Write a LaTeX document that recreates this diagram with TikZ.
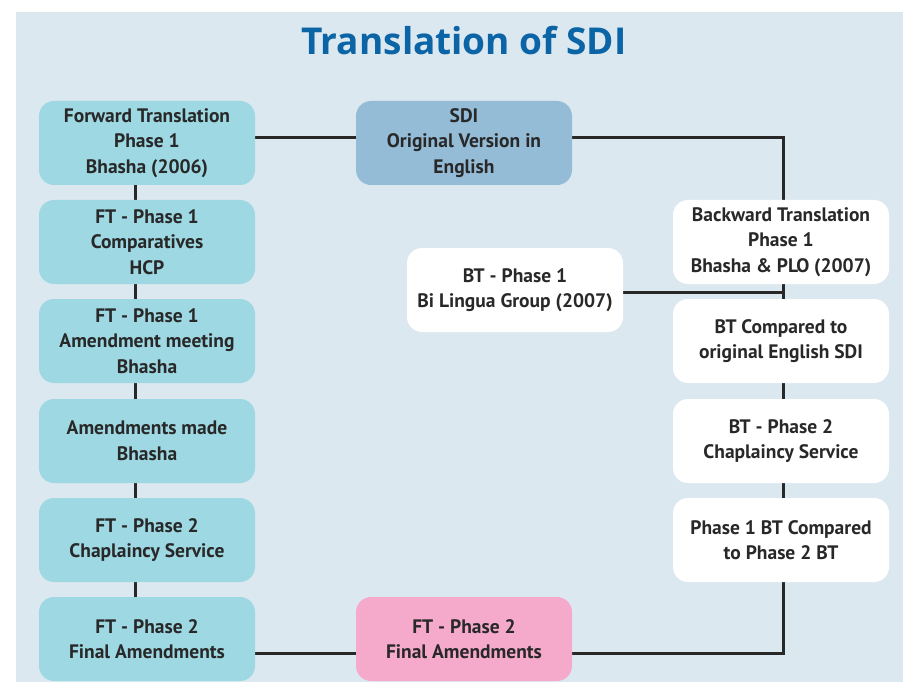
\documentclass[tikz,border=0pt]{standalone}
\usepackage{fontspec}
\setmainfont{PT Sans}
\newfontfamily\headfont{Open Sans}
\usetikzlibrary{backgrounds}
\definecolor{panel}{RGB}{220,232,240}
\definecolor{ftblue}{RGB}{157,216,227}
\definecolor{sdiblue}{RGB}{148,188,214}
\definecolor{finalpink}{RGB}{245,170,203}
\definecolor{titleblue}{RGB}{10,100,166}
\definecolor{ink}{RGB}{40,40,40}
\pgfdeclarelayer{lines}
\pgfsetlayers{background,lines,main}
\tikzset{box/.style = {rounded corners = 15pt, minimum width = 216pt, minimum height = 84pt, inner sep = 0pt, align = center, font = \fontsize{19.5}{25.5}\selectfont\bfseries, text = ink}}
\tikzset{link/.style = {draw = ink, line width = 3pt}}

\begin{document}
\begin{tikzpicture}[x = 1pt, y = -1pt]
            \useasboundingbox (0, 0) rectangle (903, 682);
            \begin{pgfonlayer}{background}
                \fill [panel] (16, 12) rectangle (903, 682);
            \end{pgfonlayer}
            \node (title) at (464, 41) [font = \headfont\fontsize{37}{42}\selectfont\bfseries, text = titleblue] {Translation of SDI};
            % forward translation column
            \node (fwd) at (147, 143) [box, fill = ftblue] {Forward Translation\\Phase 1\\Bhasha (2006)};
            \node (ftcomp) at (147, 242) [box, fill = ftblue] {FT - Phase 1\\Comparatives\\HCP};
            \node (ftmeet) at (147, 341) [box, fill = ftblue] {FT - Phase 1\\Amendment meeting\\Bhasha};
            \node (amend) at (147, 441) [box, fill = ftblue] {Amendments made\\Bhasha};
            \node (ftchap) at (147, 540) [box, fill = ftblue] {FT - Phase 2\\Chaplaincy Service};
            \node (ftfinal) at (147, 639) [box, fill = ftblue] {FT - Phase 2\\Final Amendments};
            % middle
            \node (sdi) at (464, 143) [box, fill = sdiblue] {SDI\\Original Version in\\English};
            \node (bilingua) at (515, 290) [box, fill = white] {BT - Phase 1\\Bi Lingua Group (2007)};
            \node (final) at (464, 639) [box, fill = finalpink] {FT - Phase 2\\Final Amendments};
            % backward translation column
            \node (bwd) at (781, 242) [box, fill = white] {Backward Translation\\Phase 1\\Bhasha \& PLO (2007)};
            \node (btcomp) at (781, 341) [box, fill = white] {BT Compared to\\original English SDI};
            \node (btchap) at (781, 441) [box, fill = white] {BT - Phase 2\\Chaplaincy Service};
            \node (btcheck) at (781, 540) [box, fill = white] {Phase 1 BT Compared\\to Phase 2 BT};
            \coordinate (topturn) at (783, 138);
            \coordinate (botturn) at (783, 653);
            \coordinate (tee) at (783, 292);
            \begin{pgfonlayer}{lines}
                \draw [link] ([xshift = -12pt]fwd.south) -- ([xshift = -12pt]ftfinal.north);
                \draw [link] (fwd.east |- topturn) -- (sdi.west |- topturn);
                \draw [link] (sdi.east |- topturn) -- (topturn) -- (botturn) -- (final.east |- botturn);
                \draw [link] (final.west |- botturn) -- (ftfinal.east |- botturn);
                \draw [link] (bilingua.east |- tee) -- (tee);
            \end{pgfonlayer}
        \end{tikzpicture}
\end{document}
